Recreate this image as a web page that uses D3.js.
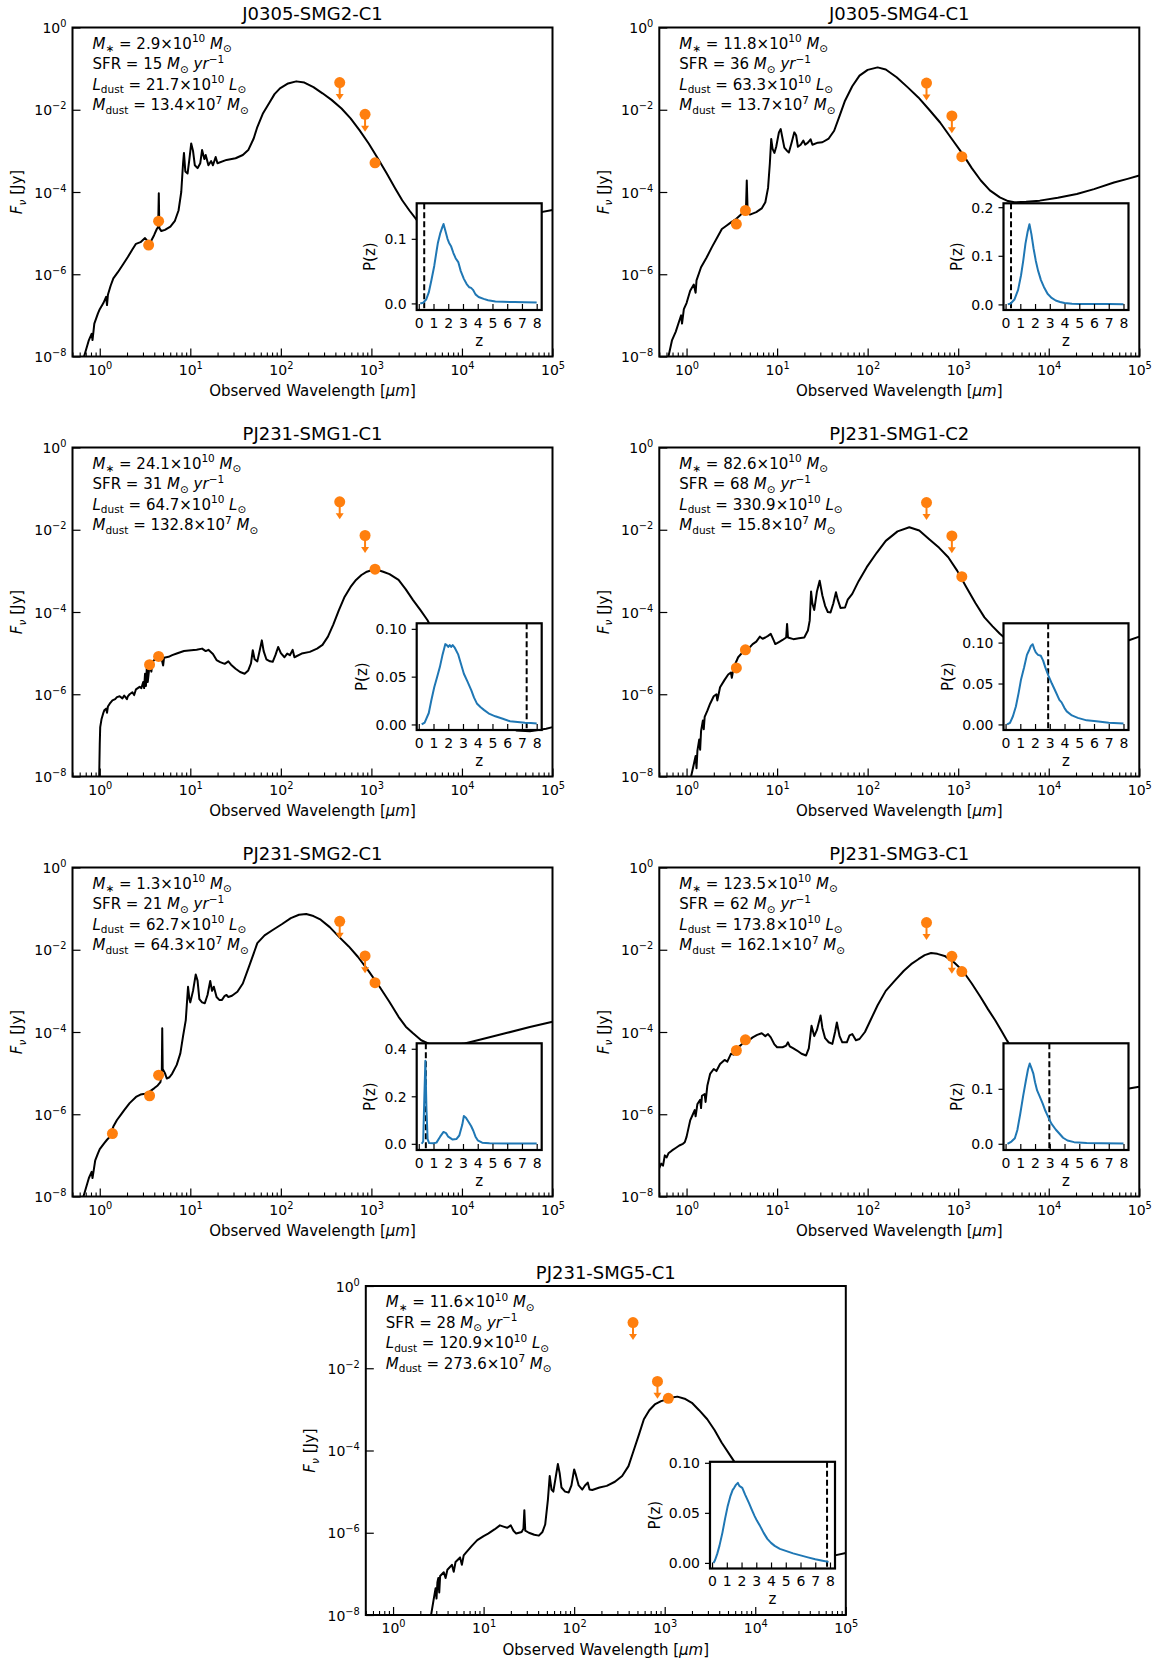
<!DOCTYPE html>
<html><head><meta charset="utf-8">
<script src="https://cdn.jsdelivr.net/npm/d3@7"></script>
<style>
body{margin:0;background:#fff}
text{font-family:"DejaVu Sans",sans-serif;fill:#000}
</style>
</head><body>
<svg id="c" width="1158" height="1663" style="background:#fff"></svg>
<script>
// ---------------- DATA (log10 wavelength [um], log10 flux [Jy]) ----------------
const panelNames = ["J0305-SMG2-C1","J0305-SMG4-C1","PJ231-SMG1-C1","PJ231-SMG1-C2","PJ231-SMG2-C1","PJ231-SMG3-C1","PJ231-SMG5-C1"];

const mStar = ["2.9","11.8","24.1","82.6","1.3","123.5","11.6"];      // x10^10 Msun
const sfr   = ["15","36","31","68","21","62","28"];                     // Msun/yr
const lDust = ["21.7","63.3","64.7","330.9","62.7","173.8","120.9"];   // x10^10 Lsun
const mDust = ["13.4","13.7","132.8","15.8","64.3","162.1","273.6"];   // x10^7 Msun

const sed1 = [[-0.20,-8.2],[-0.12,-7.6],[-0.09,-7.45],[-0.08,-7.6],[-0.06,-7.2],[-0.02,-6.95],[0.0,-6.85],[0.04,-6.7],[0.07,-6.55],[0.08,-6.75],[0.09,-6.5],[0.12,-6.28],[0.15,-6.1],[0.2,-5.95],[0.26,-5.75],[0.31,-5.58],[0.36,-5.4],[0.40,-5.26],[0.45,-5.22],[0.50,-5.12],[0.53,-5.2],[0.56,-5.22],[0.6,-5.05],[0.63,-4.9],[0.645,-4.85],[0.652,-4.03],[0.658,-4.88],[0.68,-4.95],[0.72,-4.92],[0.78,-4.84],[0.83,-4.7],[0.87,-4.45],[0.9,-4.0],[0.92,-3.3],[0.93,-3.05],[0.945,-3.5],[0.97,-3.55],[0.99,-3.2],[1.01,-2.82],[1.03,-3.0],[1.05,-3.35],[1.08,-3.42],[1.11,-3.3],[1.13,-2.98],[1.155,-3.2],[1.17,-3.1],[1.2,-3.35],[1.23,-3.25],[1.25,-3.35],[1.28,-3.15],[1.3,-3.3],[1.4,-3.22],[1.5,-3.18],[1.58,-3.1],[1.64,-2.98],[1.7,-2.7],[1.74,-2.42],[1.8,-2.1],[1.87,-1.84],[1.93,-1.62],[1.99,-1.48],[2.08,-1.36],[2.17,-1.31],[2.26,-1.34],[2.36,-1.45],[2.46,-1.6],[2.56,-1.76],[2.67,-1.97],[2.77,-2.21],[2.87,-2.5],[2.97,-2.82],[3.07,-3.18],[3.17,-3.55],[3.26,-3.9],[3.34,-4.2],[3.42,-4.45],[3.5,-4.68],[3.6,-4.85],[3.7,-4.95],[3.8,-4.97],[3.95,-4.93],[4.2,-4.8],[4.5,-4.67],[4.8,-4.52],[5.0,-4.44]];
const sed2 = [[-0.22,-8.2],[-0.16,-7.6],[-0.12,-7.4],[-0.08,-7.13],[-0.06,-7.0],[-0.05,-7.2],[-0.03,-6.85],[0.0,-6.7],[0.04,-6.4],[0.08,-6.25],[0.1,-6.45],[0.11,-6.15],[0.16,-5.83],[0.22,-5.6],[0.28,-5.34],[0.34,-5.1],[0.39,-4.9],[0.44,-4.82],[0.49,-4.74],[0.55,-4.65],[0.61,-4.53],[0.655,-4.5],[0.665,-3.72],[0.675,-4.52],[0.7,-4.55],[0.77,-4.49],[0.83,-4.4],[0.87,-4.25],[0.9,-3.9],[0.92,-3.3],[0.935,-2.71],[0.95,-2.95],[0.97,-3.05],[0.99,-2.9],[1.02,-2.55],[1.04,-2.47],[1.06,-2.7],[1.08,-2.92],[1.11,-3.0],[1.13,-3.04],[1.16,-2.8],[1.19,-2.55],[1.21,-2.62],[1.23,-2.9],[1.26,-2.85],[1.29,-2.75],[1.31,-2.85],[1.34,-2.8],[1.37,-2.72],[1.39,-2.85],[1.45,-2.8],[1.5,-2.79],[1.57,-2.7],[1.63,-2.51],[1.69,-2.15],[1.75,-1.78],[1.83,-1.43],[1.91,-1.17],[2.0,-1.03],[2.11,-0.97],[2.2,-1.02],[2.32,-1.21],[2.44,-1.45],[2.56,-1.70],[2.68,-2.0],[2.8,-2.31],[2.92,-2.68],[3.05,-3.08],[3.15,-3.42],[3.25,-3.72],[3.35,-3.96],[3.46,-4.13],[3.55,-4.22],[3.62,-4.25],[3.75,-4.24],[3.9,-4.21],[4.1,-4.14],[4.31,-4.05],[4.5,-3.93],[4.72,-3.77],[4.87,-3.68],[5.0,-3.6]];
const sed3 = [[-0.01,-8.5],[0.0,-7.2],[0.005,-6.8],[0.02,-6.6],[0.04,-6.45],[0.05,-6.39],[0.07,-6.35],[0.08,-6.45],[0.09,-6.3],[0.11,-6.23],[0.14,-6.15],[0.17,-6.12],[0.19,-6.07],[0.22,-6.05],[0.25,-6.1],[0.27,-6.03],[0.3,-6.12],[0.31,-6.05],[0.33,-6.0],[0.36,-5.95],[0.38,-6.02],[0.4,-5.88],[0.44,-5.82],[0.46,-5.85],[0.48,-5.7],[0.49,-5.85],[0.5,-5.5],[0.51,-5.8],[0.52,-5.34],[0.53,-5.7],[0.55,-5.3],[0.57,-5.45],[0.58,-5.22],[0.6,-5.17],[0.64,-5.13],[0.68,-5.11],[0.7,-5.3],[0.71,-5.11],[0.76,-5.09],[0.8,-5.05],[0.85,-5.01],[0.93,-4.95],[1.01,-4.93],[1.07,-4.92],[1.13,-4.89],[1.17,-4.95],[1.2,-4.92],[1.25,-5.02],[1.29,-5.17],[1.33,-5.22],[1.38,-5.26],[1.42,-5.2],[1.45,-5.28],[1.5,-5.38],[1.55,-5.46],[1.6,-5.5],[1.64,-5.42],[1.67,-5.25],[1.69,-4.93],[1.71,-5.15],[1.74,-5.2],[1.77,-4.9],[1.79,-4.69],[1.81,-4.95],[1.84,-5.15],[1.88,-5.2],[1.91,-5.21],[1.94,-5.05],[1.97,-4.85],[2.0,-5.0],[2.04,-5.1],[2.07,-5.01],[2.1,-5.05],[2.13,-4.92],[2.15,-5.1],[2.23,-5.01],[2.32,-4.97],[2.4,-4.89],[2.46,-4.8],[2.52,-4.6],[2.58,-4.3],[2.64,-3.96],[2.7,-3.65],[2.77,-3.39],[2.83,-3.22],[2.89,-3.1],[2.95,-3.02],[3.01,-2.98],[3.07,-2.98],[3.13,-3.02],[3.2,-3.08],[3.3,-3.22],[3.38,-3.45],[3.46,-3.71],[3.54,-3.95],[3.62,-4.2],[3.7,-4.55],[3.8,-4.9],[3.9,-5.25],[4.0,-5.6],[4.15,-6.1],[4.3,-6.5],[4.45,-6.75],[4.6,-6.88],[4.75,-6.9],[4.93,-6.84],[5.0,-6.8]];
const sed4 = [[0.02,-8.3],[0.05,-8.0],[0.08,-7.7],[0.1,-7.5],[0.11,-7.8],[0.12,-7.37],[0.14,-7.1],[0.15,-7.35],[0.16,-6.9],[0.18,-6.64],[0.19,-6.85],[0.2,-6.55],[0.23,-6.4],[0.26,-6.23],[0.3,-6.05],[0.33,-6.0],[0.34,-6.15],[0.37,-5.83],[0.42,-5.65],[0.46,-5.52],[0.49,-5.47],[0.5,-5.6],[0.52,-5.35],[0.57,-5.1],[0.61,-5.0],[0.65,-4.94],[0.69,-4.88],[0.73,-4.78],[0.77,-4.72],[0.81,-4.6],[0.84,-4.65],[0.87,-4.62],[0.9,-4.58],[0.93,-4.53],[0.96,-4.68],[0.98,-4.78],[1.02,-4.73],[1.06,-4.68],[1.1,-4.62],[1.11,-4.29],[1.12,-4.62],[1.18,-4.66],[1.24,-4.64],[1.3,-4.62],[1.34,-4.45],[1.36,-4.21],[1.375,-3.5],[1.39,-3.8],[1.41,-3.95],[1.44,-3.5],[1.47,-3.24],[1.5,-3.6],[1.53,-3.85],[1.56,-4.0],[1.59,-4.01],[1.62,-3.8],[1.65,-3.52],[1.67,-3.7],[1.7,-3.9],[1.75,-3.89],[1.78,-3.7],[1.83,-3.56],[1.9,-3.25],[1.99,-2.91],[2.1,-2.56],[2.2,-2.27],[2.33,-2.04],[2.46,-1.94],[2.57,-2.02],[2.68,-2.23],[2.79,-2.44],[2.89,-2.67],[2.99,-3.0],[3.09,-3.4],[3.19,-3.78],[3.29,-4.13],[3.38,-4.35],[3.46,-4.53],[3.55,-4.7],[3.65,-4.85],[3.8,-4.95],[4.0,-4.97],[4.2,-4.93],[4.45,-4.85],[4.7,-4.76],[4.87,-4.70],[5.0,-4.6]];
const sed5 = [[-0.22,-8.3],[-0.18,-8.0],[-0.12,-7.55],[-0.09,-7.4],[-0.08,-7.55],[-0.05,-7.12],[-0.02,-6.95],[0.0,-6.85],[0.05,-6.7],[0.08,-6.62],[0.11,-6.55],[0.15,-6.3],[0.19,-6.14],[0.23,-6.02],[0.27,-5.9],[0.33,-5.73],[0.4,-5.58],[0.45,-5.52],[0.5,-5.5],[0.55,-5.45],[0.6,-5.37],[0.64,-5.3],[0.67,-5.22],[0.685,-5.0],[0.69,-3.91],[0.695,-4.9],[0.72,-5.0],[0.74,-5.13],[0.77,-5.1],[0.8,-5.01],[0.85,-4.8],[0.89,-4.52],[0.92,-4.1],[0.95,-3.71],[0.975,-2.9],[0.99,-3.2],[1.0,-3.28],[1.03,-3.0],[1.06,-2.6],[1.08,-2.75],[1.1,-3.2],[1.13,-3.28],[1.16,-3.3],[1.19,-3.1],[1.22,-2.76],[1.24,-3.0],[1.26,-2.9],[1.29,-3.15],[1.32,-3.22],[1.35,-3.22],[1.38,-3.12],[1.4,-3.1],[1.42,-3.15],[1.46,-3.12],[1.52,-3.02],[1.58,-2.82],[1.65,-2.4],[1.74,-1.84],[1.82,-1.65],[1.91,-1.52],[2.01,-1.38],[2.11,-1.23],[2.2,-1.15],[2.28,-1.13],[2.36,-1.18],[2.44,-1.27],[2.54,-1.45],[2.64,-1.68],[2.75,-1.92],[2.85,-2.17],[2.97,-2.52],[3.09,-2.9],[3.2,-3.27],[3.3,-3.63],[3.38,-3.87],[3.46,-4.03],[3.55,-4.2],[3.65,-4.3],[3.75,-4.33],[3.9,-4.32],[4.03,-4.28],[4.25,-4.16],[4.5,-4.02],[4.75,-3.88],[5.0,-3.75]];
const sed6 = [[-0.31,-7.35],[-0.28,-7.2],[-0.26,-7.25],[-0.24,-7.0],[-0.22,-7.05],[-0.2,-6.95],[-0.16,-6.88],[-0.12,-6.82],[-0.08,-6.76],[-0.04,-6.72],[-0.02,-6.68],[0.0,-6.55],[0.02,-6.35],[0.04,-6.15],[0.07,-6.0],[0.09,-5.9],[0.1,-6.05],[0.12,-5.75],[0.15,-5.65],[0.16,-5.85],[0.17,-5.55],[0.2,-5.51],[0.21,-5.7],[0.23,-5.3],[0.26,-5.02],[0.3,-4.9],[0.33,-4.95],[0.37,-4.78],[0.42,-4.68],[0.45,-4.72],[0.49,-4.53],[0.52,-4.55],[0.55,-4.45],[0.57,-4.37],[0.6,-4.32],[0.65,-4.21],[0.69,-4.2],[0.73,-4.13],[0.78,-4.07],[0.83,-4.03],[0.87,-4.1],[0.9,-4.05],[0.93,-4.13],[0.97,-4.3],[1.0,-4.37],[1.06,-4.37],[1.1,-4.33],[1.12,-4.25],[1.14,-4.35],[1.18,-4.4],[1.22,-4.45],[1.27,-4.53],[1.32,-4.57],[1.35,-4.4],[1.38,-3.85],[1.41,-4.1],[1.44,-3.95],[1.48,-3.6],[1.5,-3.9],[1.53,-4.15],[1.57,-4.25],[1.61,-4.29],[1.64,-4.0],[1.66,-3.77],[1.69,-4.1],[1.72,-4.25],[1.77,-4.25],[1.8,-4.08],[1.83,-4.05],[1.87,-4.2],[1.91,-4.17],[1.97,-4.0],[2.03,-3.72],[2.11,-3.35],[2.2,-3.0],[2.3,-2.75],[2.4,-2.51],[2.48,-2.35],[2.56,-2.23],[2.63,-2.13],[2.70,-2.08],[2.77,-2.1],[2.85,-2.15],[2.95,-2.3],[3.05,-2.51],[3.15,-2.82],[3.25,-3.16],[3.33,-3.45],[3.41,-3.72],[3.48,-3.98],[3.54,-4.21],[3.62,-4.5],[3.7,-4.75],[3.8,-5.0],[3.95,-5.3],[4.1,-5.52],[4.3,-5.6],[4.5,-5.55],[4.7,-5.45],[4.87,-5.38],[5.0,-5.33]];
const sed7 = [[0.4,-8.2],[0.42,-8.0],[0.45,-7.6],[0.47,-7.35],[0.48,-7.6],[0.49,-7.2],[0.5,-7.1],[0.51,-7.45],[0.52,-7.05],[0.56,-6.96],[0.58,-7.1],[0.6,-6.9],[0.65,-6.78],[0.67,-6.95],[0.69,-6.71],[0.74,-6.6],[0.76,-6.78],[0.78,-6.55],[0.81,-6.47],[0.87,-6.32],[0.93,-6.18],[1.0,-6.08],[1.05,-6.02],[1.12,-5.92],[1.18,-5.82],[1.22,-5.85],[1.26,-5.88],[1.3,-5.82],[1.33,-5.95],[1.36,-6.02],[1.42,-5.98],[1.44,-5.9],[1.45,-5.45],[1.46,-5.95],[1.5,-6.0],[1.56,-6.05],[1.61,-6.07],[1.65,-5.98],[1.68,-5.8],[1.71,-5.2],[1.73,-4.62],[1.75,-4.95],[1.77,-5.0],[1.8,-4.6],[1.82,-4.33],[1.84,-4.55],[1.86,-4.9],[1.9,-5.0],[1.94,-5.02],[1.97,-4.85],[2.0,-4.46],[2.02,-4.6],[2.05,-4.85],[2.09,-4.95],[2.12,-4.85],[2.15,-4.78],[2.17,-4.95],[2.2,-4.96],[2.28,-4.9],[2.36,-4.86],[2.45,-4.76],[2.53,-4.62],[2.6,-4.38],[2.65,-4.05],[2.71,-3.65],[2.77,-3.24],[2.83,-3.02],[2.89,-2.88],[2.96,-2.8],[3.02,-2.76],[3.08,-2.71],[3.14,-2.69],[3.22,-2.74],[3.30,-2.84],[3.38,-3.02],[3.47,-3.24],[3.55,-3.5],[3.63,-3.81],[3.75,-4.21],[3.88,-4.65],[4.0,-5.0],[4.15,-5.45],[4.3,-5.9],[4.45,-6.25],[4.6,-6.5],[4.75,-6.6],[4.88,-6.55],[5.0,-6.49]];

// photometry: detections and upper limits (log10 um, log10 Jy)
const det1 = [[0.54,-5.29],[0.65,-4.71],[3.04,-3.29]], ul1 = [[2.65,-1.34],[2.93,-2.11]];
const det2 = [[0.55,-4.78],[0.65,-4.45],[3.04,-3.14]], ul2 = [[2.65,-1.35],[2.93,-2.15]];
const det3 = [[0.55,-5.28],[0.65,-5.08],[3.04,-2.96]], ul3 = [[2.65,-1.32],[2.93,-2.14]];
const det4 = [[0.55,-5.36],[0.65,-4.92],[3.04,-3.14]], ul4 = [[2.65,-1.34],[2.93,-2.15]];
const det5 = [[0.14,-6.47],[0.55,-5.55],[0.65,-5.05],[3.04,-2.80]], ul5 = [[2.65,-1.31],[2.93,-2.15]];
const det6 = [[0.55,-4.45],[0.65,-4.19],[3.04,-2.53]], ul6 = [[2.65,-1.34],[2.93,-2.16]];
const det7 = [[3.04,-2.73]], ul7 = [[2.65,-0.89],[2.92,-2.32]];
const ulArrowDex = 0.4;

// photometric redshift distributions P(z)
const pz1 = [[0.1,0.0],[0.3,0.001],[0.5,0.006],[0.68,0.017],[0.85,0.035],[1.05,0.058],[1.2,0.08],[1.3,0.094],[1.45,0.108],[1.6,0.118],[1.68,0.123],[1.8,0.113],[1.95,0.1],[2.05,0.094],[2.2,0.088],[2.35,0.078],[2.5,0.07],[2.68,0.064],[2.85,0.05],[3.06,0.038],[3.25,0.03],[3.43,0.025],[3.55,0.024],[3.68,0.021],[3.85,0.014],[4.06,0.01],[4.4,0.007],[4.7,0.005],[5.2,0.003],[5.7,0.0025],[6.5,0.002],[7.2,0.0017],[8.0,0.0015]];
const pz2 = [[0.15,0.0],[0.35,0.002],[0.6,0.01],[0.85,0.03],[1.05,0.06],[1.2,0.09],[1.35,0.125],[1.5,0.15],[1.62,0.165],[1.75,0.145],[1.9,0.115],[2.05,0.09],[2.2,0.07],[2.4,0.05],[2.6,0.036],[2.85,0.022],[3.1,0.014],[3.4,0.008],[3.7,0.005],[4.0,0.003],[4.5,0.0015],[5,0.001],[6,0.0008],[7,0.0006],[8,0.0005]];
const pz3 = [[0.2,0.0],[0.4,0.002],[0.68,0.012],[0.85,0.025],[1.05,0.039],[1.25,0.05],[1.43,0.06],[1.6,0.072],[1.8,0.084],[1.9,0.083],[2.0,0.081],[2.1,0.083],[2.2,0.081],[2.3,0.083],[2.45,0.08],[2.68,0.073],[2.85,0.064],[3.06,0.053],[3.3,0.045],[3.56,0.036],[3.75,0.028],[3.94,0.022],[4.2,0.018],[4.44,0.015],[4.8,0.011],[5.19,0.0085],[5.7,0.006],[6.19,0.0034],[6.7,0.0025],[7.2,0.0017],[7.6,0.0015],[8.0,0.001]];
const pz4 = [[0.1,0.0],[0.3,0.002],[0.5,0.01],[0.7,0.022],[0.88,0.038],[1.05,0.055],[1.26,0.07],[1.45,0.085],[1.58,0.09],[1.72,0.096],[1.84,0.098],[1.95,0.092],[2.05,0.088],[2.2,0.085],[2.39,0.084],[2.55,0.078],[2.69,0.07],[2.9,0.06],[3.14,0.05],[3.4,0.04],[3.65,0.03],[3.8,0.027],[4.0,0.02],[4.15,0.016],[4.5,0.011],[4.9,0.008],[5.5,0.005],[6.16,0.004],[7,0.002],[8,0.0012]];
const pz5 = [[0.2,0.0],[0.3,0.01],[0.38,0.2],[0.45,0.35],[0.52,0.15],[0.6,0.02],[0.7,0.003],[1.0,0.002],[1.2,0.005],[1.45,0.03],[1.68,0.05],[1.85,0.045],[2.0,0.03],[2.3,0.018],[2.55,0.02],[2.75,0.035],[2.95,0.08],[3.06,0.117],[3.2,0.11],[3.35,0.095],[3.55,0.075],[3.7,0.055],[3.85,0.03],[4.0,0.015],[4.3,0.005],[4.8,0.002],[6,0.001],[8,0.001]];
const pz6 = [[0.13,0.0],[0.4,0.004],[0.63,0.01],[0.8,0.025],[1.0,0.055],[1.2,0.088],[1.38,0.115],[1.52,0.135],[1.64,0.146],[1.75,0.138],[1.89,0.127],[2.0,0.112],[2.14,0.097],[2.3,0.087],[2.52,0.073],[2.7,0.06],[2.89,0.049],[3.1,0.037],[3.4,0.026],[3.6,0.02],[3.9,0.011],[4.2,0.006],[4.65,0.003],[5.5,0.0015],[6.5,0.001],[8,0.0006]];
const pz7 = [[0.1,0.0],[0.2,0.0026],[0.35,0.009],[0.5,0.017],[0.7,0.03],[0.88,0.044],[1.05,0.056],[1.25,0.067],[1.4,0.073],[1.5,0.075],[1.62,0.078],[1.75,0.08],[1.85,0.077],[1.95,0.076],[2.05,0.075],[2.25,0.068],[2.5,0.06],[2.7,0.053],[2.88,0.047],[3.05,0.042],[3.25,0.037],[3.5,0.03],[3.75,0.024],[4.0,0.02],[4.25,0.017],[4.6,0.014],[5.0,0.012],[5.5,0.0095],[6.0,0.0075],[6.5,0.0055],[7.0,0.0036],[7.5,0.0022],[7.9,0.001]];

const zSpec = [0.37, 0.37, 7.32, 2.89, 0.48, 2.97, 7.8];      // dashed line (spectroscopic z)
const pzYMax = [0.155, 0.208, 0.1058, 0.1236, 0.423, 0.1827, 0.101];
const pzYMin = [-0.0102, -0.0115, -0.0058, -0.0068, -0.026, -0.0113, -0.0056];
const pzYTicks = [[0,0.1],[0,0.1,0.2],[0,0.05,0.1],[0,0.05,0.1],[0,0.2,0.4],[0,0.1],[0,0.05,0.1]];
const pzYDigits = [1,1,2,2,1,1,2];
const pzXTicks = [0,1,2,3,4,5,6,7,8];
const xMajorExp = [0,1,2,3,4,5];
const yMajorExp = [0,-2,-4,-6,-8];

const seds = [sed1,sed2,sed3,sed4,sed5,sed6,sed7];
const dets = [det1,det2,det3,det4,det5,det6,det7];
const uls = [ul1,ul2,ul3,ul4,ul5,ul6,ul7];
const pzs = [pz1,pz2,pz3,pz4,pz5,pz6,pz7];

// ---------------- DRAWING ----------------
const svg = d3.select("#c");
const ORANGE = "#ff7f0e", BLUE = "#1f77b4";
const W = 480, H = 329;
const TICKFS = 14, LABFS = 15;
const origins = [[72.5,27.5],[659.3,27.5],[72.5,447.5],[659.3,447.5],[72.5,867.5],[659.3,867.5],[365.8,1286]];

function rich(textSel, spec, size){
  const re = /\{(\w+):([^}]*)\}|([^{]+)/g;
  let m, off = 0;
  while((m = re.exec(spec))){
    const kind = m[1] || "n", str = m[1] ? m[2] : m[3];
    let target = 0, fs = size, style = "normal";
    if(kind === "sub" || kind === "isub"){ target = 0.24*size; fs = 0.7*size; }
    if(kind === "sup"){ target = -0.42*size; fs = 0.7*size; }
    if(kind === "i" || kind === "isub") style = "italic";
    textSel.append("tspan").attr("dy", (target-off).toFixed(2)).style("font-size", fs+"px").style("font-style", style).text(str);
    off = target;
  }
  return textSel;
}

const minorTicks = [];
for(let e=-1;e<5;e++) for(let k=2;k<10;k++){ const v=k*Math.pow(10,e); if(v>=0.5 && v<=1e5) minorTicks.push(v); }

panelNames.forEach((name, i) => {
  const [ox, oy] = origins[i];
  const g = svg.append("g").attr("transform", `translate(${ox},${oy})`);
  const x = d3.scaleLog().domain([0.5, 1e5]).range([0, W]);
  const y = d3.scaleLog().domain([1e-8, 1]).range([H, 0]);
  const P = v => Math.pow(10, v);

  const clipId = "clip"+i;
  g.append("clipPath").attr("id", clipId).append("rect").attr("width", W).attr("height", H);

  // SED model
  const line = d3.line().x(d => x(P(d[0]))).y(d => y(P(d[1])));
  g.append("path").attr("clip-path", `url(#${clipId})`).attr("d", line(seds[i]))
    .attr("fill","none").attr("stroke","#000").attr("stroke-width",2).attr("stroke-linejoin","round");

  // upper limits
  const ulG = g.append("g").attr("clip-path", `url(#${clipId})`);
  uls[i].forEach(d => {
    const cx = x(P(d[0])), cy = y(P(d[1])), ty = y(P(d[1]-ulArrowDex));
    ulG.append("line").attr("x1",cx).attr("x2",cx).attr("y1",cy).attr("y2",ty-4)
      .attr("stroke",ORANGE).attr("stroke-width",2);
    ulG.append("path").attr("d", `M${cx-4},${ty-5}L${cx+4},${ty-5}L${cx},${ty+1}Z`).attr("fill",ORANGE);
    ulG.append("circle").attr("cx",cx).attr("cy",cy).attr("r",5.5).attr("fill",ORANGE);
  });
  // detections
  g.append("g").selectAll("circle").data(dets[i]).join("circle")
    .attr("cx", d => x(P(d[0]))).attr("cy", d => y(P(d[1]))).attr("r",5.5).attr("fill",ORANGE);

  // axes
  const xa = g.append("g").attr("transform", `translate(0,${H})`)
    .call(d3.axisBottom(x).tickValues(xMajorExp.map(P)).tickSize(-8).tickFormat(() => ""));
  xa.select(".domain").remove();
  xa.selectAll(".tick line").attr("stroke-width",1.2);
  xa.selectAll(".tick text").remove();
  xa.selectAll(".tick").each(function(d, k){
    rich(d3.select(this).append("text").attr("y",18).attr("text-anchor","middle").style("font-size",TICKFS+"px"),
      `10{sup:${xMajorExp[k]}}`, TICKFS);
  });
  const xm = g.append("g").attr("transform", `translate(0,${H})`)
    .call(d3.axisBottom(x).tickValues(minorTicks).tickSize(-4).tickFormat(() => ""));
  xm.select(".domain").remove();
  xm.selectAll(".tick line").attr("stroke-width",1.1);

  const ya = g.append("g").call(d3.axisLeft(y).tickValues(yMajorExp.map(P)).tickSize(-8).tickFormat(() => ""));
  ya.select(".domain").remove();
  ya.selectAll(".tick line").attr("stroke-width",1.2);
  ya.selectAll(".tick text").remove();
  ya.selectAll(".tick").each(function(d, k){
    const e = yMajorExp[k];
    rich(d3.select(this).append("text").attr("x",-6).attr("y",5).attr("text-anchor","end").style("font-size",TICKFS+"px"),
      `10{sup:${e < 0 ? "\u2212"+(-e) : e}}`, TICKFS);
  });

  // spines
  g.append("rect").attr("width",W).attr("height",H).attr("fill","none").attr("stroke","#000").attr("stroke-width",2);

  // labels
  g.append("text").attr("x",W/2).attr("y",-7.5).attr("text-anchor","middle").style("font-size","18px").text(name);
  rich(g.append("text").attr("x",W/2).attr("y",H+39.5).attr("text-anchor","middle").style("font-size",LABFS+"px"),
    "Observed Wavelength [{i:\u03bcm}]", LABFS);
  rich(g.append("text").attr("transform",`translate(-50.5,${H/2}) rotate(-90)`).attr("text-anchor","middle").style("font-size",LABFS+"px"),
    "{i:F}{isub:\u03bd} [Jy]", LABFS);

  // annotation
  const ann = [
    `{i:M}{sub:\u2217} = ${mStar[i]}\u00d710{sup:10} {i:M}{sub:\u2299}`,
    `SFR = ${sfr[i]} {i:M}{sub:\u2299} {i:yr}{sup:\u22121}`,
    `{i:L}{sub:dust} = ${lDust[i]}\u00d710{sup:10} {i:L}{sub:\u2299}`,
    `{i:M}{sub:dust} = ${mDust[i]}\u00d710{sup:7} {i:M}{sub:\u2299}`
  ];
  const annY = [21, 41.5, 62, 82.5];
  ann.forEach((s, k) => rich(g.append("text").attr("x",20).attr("y",annY[k]).style("font-size","15px"), s, 15));

  // inset P(z)
  const iw = 125, ih = 106.7;
  const ig = g.append("g").attr("transform", `translate(344.2,175.8)`);
  ig.append("rect").attr("width",iw).attr("height",ih).attr("fill","#fff");
  const zx = d3.scaleLinear().domain([-0.14, 8.34]).range([0, iw]);
  const zy = d3.scaleLinear().domain([pzYMin[i], pzYMax[i]]).range([ih, 0]);
  const icId = "iclip"+i;
  ig.append("clipPath").attr("id", icId).append("rect").attr("width", iw).attr("height", ih);
  ig.append("line").attr("x1",zx(zSpec[i])).attr("x2",zx(zSpec[i])).attr("y1",0).attr("y2",ih)
    .attr("stroke","#000").attr("stroke-width",2).attr("stroke-dasharray","6,3");
  ig.append("path").attr("clip-path",`url(#${icId})`)
    .attr("d", d3.line().x(d => zx(d[0])).y(d => zy(d[1]))(pzs[i]))
    .attr("fill","none").attr("stroke",BLUE).attr("stroke-width",2).attr("stroke-linejoin","round");
  const zxa = ig.append("g").attr("transform",`translate(0,${ih})`)
    .call(d3.axisBottom(zx).tickValues(pzXTicks).tickSize(-6).tickFormat(d3.format("d")));
  zxa.select(".domain").remove();
  zxa.selectAll(".tick line").attr("stroke-width",1.2);
  zxa.selectAll(".tick text").attr("y",17.5).attr("dy",null).style("font-size",TICKFS+"px").style("font-family",'"DejaVu Sans",sans-serif');
  const zya = ig.append("g")
    .call(d3.axisLeft(zy).tickValues(pzYTicks[i]).tickSize(5).tickPadding(5).tickFormat(d3.format("."+pzYDigits[i]+"f")));
  zya.select(".domain").remove();
  zya.selectAll(".tick line").attr("stroke-width",1.2);
  zya.selectAll(".tick text").attr("dy",null).attr("y",5).style("font-size",TICKFS+"px").style("font-family",'"DejaVu Sans",sans-serif');
  let maxW = 0;
  zya.selectAll(".tick text").each(function(){ maxW = Math.max(maxW, this.getComputedTextLength()); });
  ig.append("rect").attr("width",iw).attr("height",ih).attr("fill","none").attr("stroke","#000").attr("stroke-width",2.2);
  ig.append("text").attr("x",iw/2).attr("y",ih+36).attr("text-anchor","middle").style("font-size",LABFS+"px").text("z");
  ig.append("text").attr("transform",`translate(${-10-maxW-9},${ih/2}) rotate(-90)`).attr("text-anchor","middle").style("font-size",LABFS+"px").text("P(z)");
});
</script>
</body></html>
